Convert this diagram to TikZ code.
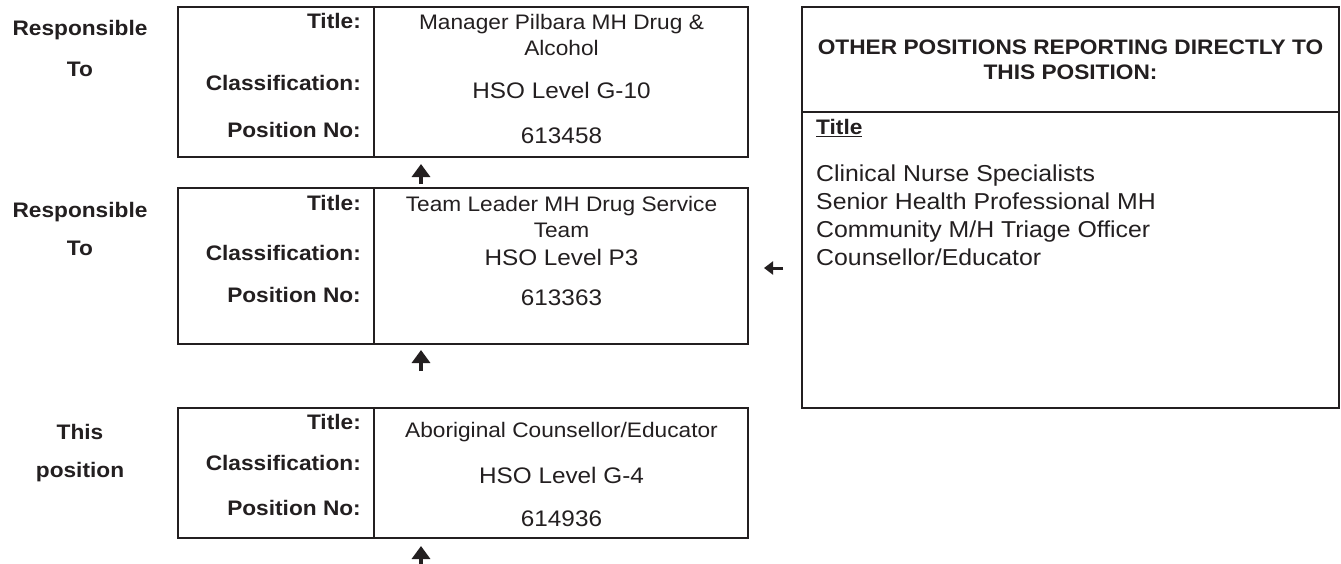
\documentclass[tikz,border=0pt]{standalone}
\usepackage{fontspec}
\setmainfont{Liberation Sans}[FakeStretch=1.08]
\usetikzlibrary{arrows.meta}
\definecolor{ink}{HTML}{231F20}
\begin{document}
\begin{tikzpicture}[x=1pt,y=-1pt,
  posbox/.style={draw=ink,line width=2pt,inner sep=0pt},
  rule/.style={draw=ink,line width=2pt},
  lbl/.style={font=\fontsize{21}{25}\selectfont\bfseries,text=ink,inner sep=0pt,anchor=base east},
  side/.style={font=\fontsize{21}{25}\selectfont\bfseries,text=ink,inner sep=0pt,anchor=base},
  val/.style={font=\fontsize{22.5}{26}\selectfont,text=ink,inner sep=0pt,anchor=base},
  ttl/.style={font=\fontsize{21}{26}\selectfont,text=ink,inner sep=0pt,align=center},
  lst/.style={font=\fontsize{23}{28}\selectfont,text=ink,inner sep=0pt,align=left,anchor=west},
  uparr/.style={draw=ink,line width=4pt,-{Triangle[length=13pt,width=18pt]}},
  lfarr/.style={draw=ink,line width=3pt,-{Triangle[length=9pt,width=13pt]}}
]
\useasboundingbox (0,0) rectangle (1341,563);
\fill[white] (0,0) rectangle (1341,563);

% boxes
\node[posbox,minimum width=570pt,minimum height=150pt] (b1) at (463,82) {};
\node[posbox,minimum width=570pt,minimum height=156pt] (b2) at (463,266) {};
\node[posbox,minimum width=570pt,minimum height=130pt] (b3) at (463,473) {};
\node[posbox,minimum width=537pt,minimum height=401pt] (rb) at (1070.5,207.5) {};
\draw[rule] ([xshift=197pt]b1.north west) -- ([xshift=197pt]b1.south west);
\draw[rule] ([xshift=197pt]b2.north west) -- ([xshift=197pt]b2.south west);
\draw[rule] ([xshift=197pt]b3.north west) -- ([xshift=197pt]b3.south west);
\draw[rule] ([yshift=-106pt]rb.north west) -- ([yshift=-106pt]rb.north east);

% side labels
\node[side] (s1a) at (80,35.5) {Responsible};
\node[side] (s1b) at (80,76.5) {To};
\node[side] (s2a) at (80,217.5) {Responsible};
\node[side] (s2b) at (80,255.5) {To};
\node[side] (s3a) at (80,439.5) {This};
\node[side] (s3b) at (80,477.5) {position};

% box 1
\node[lbl] (t1) at (361,28.6) {Title:};
\node[lbl] (c1) at (361,90.6) {Classification:};
\node[lbl] (p1) at (361,137.6) {Position No:};
\node[ttl] (v1t) at (561.5,35) {Manager Pilbara MH Drug \&\\Alcohol};
\node[val] (v1c) at (561.5,98) {HSO Level G-10};
\node[val] (v1p) at (561.5,143) {613458};

% box 2
\node[lbl] (t2) at (361,210.6) {Title:};
\node[lbl] (c2) at (361,260.6) {Classification:};
\node[lbl] (p2) at (361,302.6) {Position No:};
\node[ttl] (v2t) at (561.5,217) {Team Leader MH Drug Service\\Team};
\node[val] (v2c) at (561.5,265) {HSO Level P3};
\node[val] (v2p) at (561.5,305) {613363};

% box 3
\node[lbl] (t3) at (361,429.6) {Title:};
\node[lbl] (c3) at (361,470.6) {Classification:};
\node[lbl] (p3) at (361,515.6) {Position No:};
\node[ttl,anchor=base] (v3t) at (561.5,437.6) {Aboriginal Counsellor/Educator};
\node[val] (v3c) at (561.5,483) {HSO Level G-4};
\node[val] (v3p) at (561.5,526) {614936};

% right box
\node[ttl,font=\fontsize{21}{25}\selectfont\bfseries] (hd) at (1070.5,59.5) {OTHER POSITIONS REPORTING DIRECTLY TO\\THIS POSITION:};
\node[side,anchor=base west] (lt) at (816,134.6) {\underline{Title}};
\node[lst] (ls) at (816,215.5) {Clinical Nurse Specialists\\Senior Health Professional MH\\Community M/H Triage Officer\\Counsellor/Educator};

% arrows
\draw[uparr] ([xshift=-42pt,yshift=3pt]b2.north) -- ([xshift=-42pt,yshift=-6pt]b1.south);
\draw[uparr] ([xshift=-42pt,yshift=36pt]b3.north) -- ([xshift=-42pt,yshift=-5pt]b2.south);
\draw[uparr] ([xshift=-42pt,yshift=-25pt]b3.south) -- ([xshift=-42pt,yshift=-7pt]b3.south);
\draw[lfarr] ([xshift=-18pt,yshift=-60.5pt]rb.west) -- ([xshift=-37pt,yshift=-60.5pt]rb.west);
\end{tikzpicture}
\end{document}
